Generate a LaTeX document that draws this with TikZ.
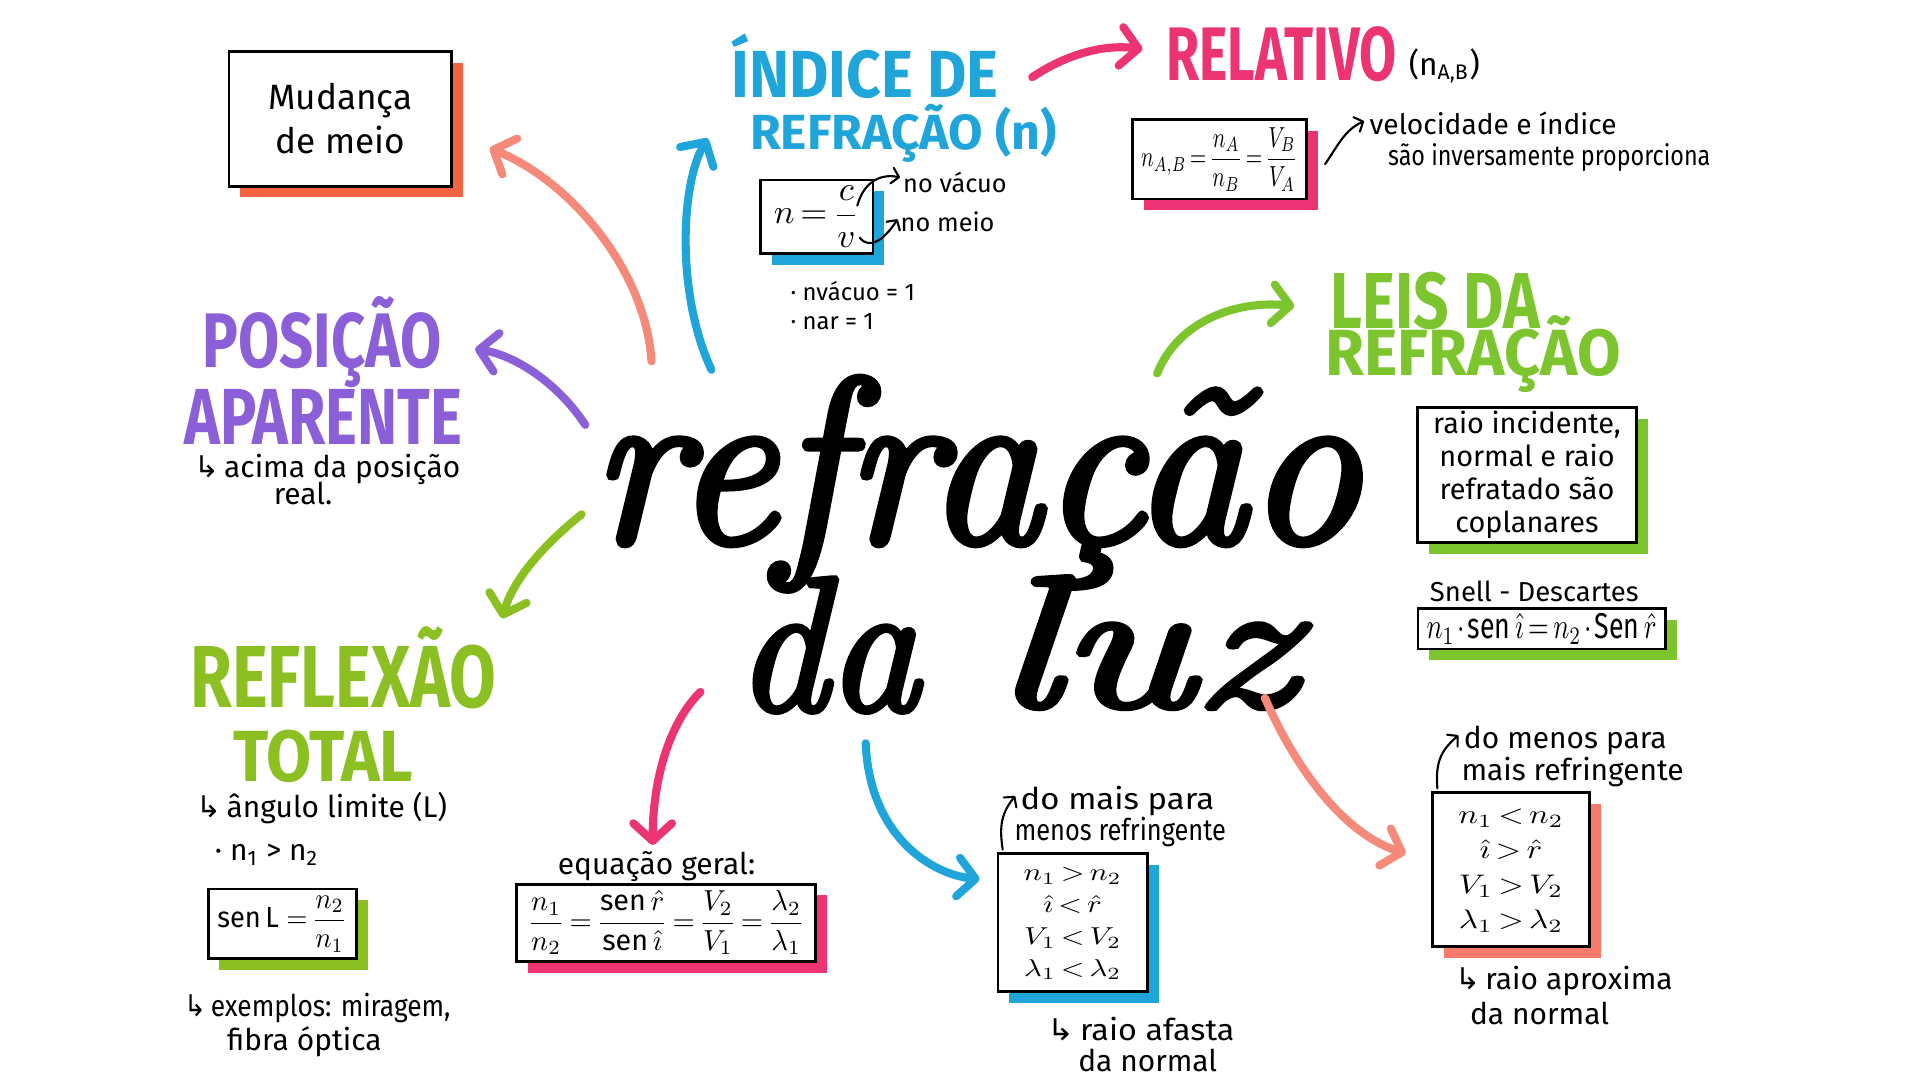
\documentclass[tikz,border=0pt]{standalone}
\usepackage{amsmath}
\usepackage{fontspec}
\setmainfont{Fira Sans}
\newfontfamily\symfont{DejaVu Sans}
\newfontfamily\titlefont{Latin Modern Roman}
\usetikzlibrary{arrows.meta,shadows,calc}
\newlength\px \setlength\px{0.012245cm}
\definecolor{cblue}{HTML}{1FA5DA}
\definecolor{cpink}{HTML}{EC3474}
\definecolor{cgreen}{HTML}{7DC52E}
\definecolor{colive}{HTML}{8CBF22}
\definecolor{cpurple}{HTML}{8A5FD8}
\definecolor{corange}{HTML}{F2643F}
\definecolor{csalmon}{HTML}{F5897A}
\definecolor{csalbox}{HTML}{F67B6A}
\newcommand\hk{{\symfont ↳}\,}
\newcommand\bodyf{\fontsize{8.5pt}{10pt}\selectfont}
\newcommand\smallf{\fontsize{7.2pt}{8.5pt}\selectfont}
\newcommand\fit[3]{\resizebox*{#1\px}{#2\px}{\thickmuskip=3mu\medmuskip=2mu #3}}
\newcommand\sx[2]{\scalebox{#1}[1]{#2}}
\tikzset{
  hd/.style={inner sep=0pt, font=\bfseries, anchor=base west},
  ttl/.style={inner sep=0pt, font=\titlefont\fontsize{40pt}{40pt}\selectfont\itshape, anchor=base west, text=black},
  txt/.style={inner sep=0pt, font=\bodyf, anchor=base west},
  stxt/.style={inner sep=0pt, font=\smallf, anchor=base west},
  sbox/.style={draw=black, line width=0.8pt, fill=white, inner sep=1pt, align=center,
     general shadow={fill=#1, shadow xshift=3.2pt, shadow yshift=-3.2pt}},
  mk/.style={draw=#1, line width=2.3pt, line cap=round,
     -{Straight Barb[length=5pt,width=11pt,round]}},
  ann/.style={draw=black, line width=0.6pt, line cap=round,
     -{Straight Barb[length=2pt,width=4.5pt,round]}}
}
\begin{document}
\begin{tikzpicture}[x=0.012245cm,y=-0.012245cm]
\fill[white] (0,0) rectangle (1568,882);
\useasboundingbox (0,0) rectangle (1568,882);

% ---------- title ----------
\node[ttl] (refr) at (482,443) {\resizebox{628\px}{135\px}{\addfontfeature{FakeBold=3}refração}};
\node[ttl] (da) at (600,580) {\resizebox{150\px}{108\px}{\addfontfeature{FakeBold=3}da}};
\node[ttl] (luz) at (812,577) {\resizebox{245\px}{106\px}{\addfontfeature{FakeBold=3}luz}};

% ---------- Mudança de meio ----------
\node[sbox=corange, minimum width=182\px, minimum height=110\px,
      font=\fontsize{10pt}{12.5pt}\selectfont] (mud) at (278,97) {Mudança\\de meio};

% ---------- Índice de refração ----------
\node[hd, text=cblue] (ind1) at (597,80) {\resizebox{218\px}{52\px}{ÍNDICE DE}};
\node[hd, text=cblue] (ind2) at (612,122) {\resizebox{250\px}{37\px}{REFRAÇÃO (n)}};
\node[sbox=cblue, minimum width=92\px, minimum height=60\px] (ncv) at (667,177)
      {\fit{70}{50}{$n=\dfrac{c}{v}$}};
\node[stxt] (vac) at (737,157) {no vácuo};
\node[stxt] (mei) at (735,189) {no meio};
\node[stxt, font=\fontsize{6.8pt}{8pt}\selectfont] (nv1) at (645,245) {· nvácuo = 1};
\node[stxt, font=\fontsize{6.8pt}{8pt}\selectfont] (nv2) at (645,269) {· nar = 1};
\draw[ann] ($(ncv.north east)+(-14,22)$) .. controls ($(ncv.north east)+(-8,0)$) and (722,142) .. ($(vac.west)+(-2,-4)$);
\draw[ann] ($(ncv.south east)+(-12,-14)$) .. controls ($(ncv.south east)+(-4,-4)$) and (722,196) .. ($(mei.west)+(-2,-2)$);

% ---------- Relativo ----------
\node[hd, text=cpink] (rel) at (952,66) {\resizebox{188\px}{44\px}{RELATIVO}};
\node[txt, font=\fontsize{9pt}{10pt}\selectfont] (relab) at (1150,62) {(n\textsubscript{A,B})};
\node[sbox=cpink, minimum width=142\px, minimum height=65\px] (relbox) at (996,130)
      {\fit{128}{52}{$n_{A,B}=\dfrac{n_A}{n_B}=\dfrac{V_B}{V_A}$}};
\node[txt, font=\fontsize{8pt}{9pt}\selectfont] (velo1) at (1118,110) {velocidade e índice};
\node[txt, font=\fontsize{8pt}{9pt}\selectfont] (velo2) at (1133,135) {\sx{0.83}{são inversamente proporciona}};
\draw[ann] ($(relbox.east)+(14,4)$) .. controls (1092,120) and (1098,106) .. ($(velo1.west)+(-4,-2)$);

% ---------- Leis da refração ----------
\node[hd, text=cgreen] (leis1) at (1086,268) {\resizebox{171\px}{46\px}{LEIS DA}};
\node[hd, text=cgreen] (leis2) at (1082,307) {\resizebox{241\px}{49\px}{REFRAÇÃO}};
\node[sbox=cgreen, minimum width=179\px, minimum height=110\px,
      font=\fontsize{8.2pt}{9.4pt}\selectfont] (leisbox) at (1247,388)
      {raio incidente,\\normal e raio\\refratado são\\coplanares};
\node[inner sep=0pt, font=\fontsize{7.8pt}{9pt}\selectfont] (snt) at (1253,483) {Snell - Descartes};
\node[sbox=cgreen, minimum width=202\px, minimum height=33\px] (snell) at (1259,513.5)
      {\fit{188}{25}{$n_1\cdot\text{sen}\,\hat{\imath}=n_2\cdot\text{Sen}\,\hat{r}$}};

% ---------- Posição aparente ----------
\node[hd, text=cpurple] (pos1) at (165,300) {\resizebox{195\px}{58\px}{POSIÇÃO}};
\node[hd, text=cpurple] (pos2) at (150,363) {\resizebox{227\px}{45\px}{APARENTE}};
\node[txt] (acima) at (158,390) {\hk acima da posição};
\node[txt] (real) at (223,412) {real.};

% ---------- Reflexão total ----------
\node[hd, text=colive] (refl1) at (155,578) {\resizebox{250\px}{66\px}{REFLEXÃO}};
\node[hd, text=colive] (refl2) at (190,638) {\resizebox{147\px}{42\px}{TOTAL}};
\node[txt] (ang) at (160,668) {\hk ângulo limite (L)};
\node[txt] (n1n2) at (175,703) {· n\textsubscript{1} > n\textsubscript{2}};
\node[sbox=colive, minimum width=121\px, minimum height=57\px] (senl) at (230.5,754.5)
      {\fit{106}{46}{sen\,L $=\dfrac{n_2}{n_1}$}};
\node[txt] (ex1) at (150,830) {\sx{0.88}{\hk exemplos: miragem,}};
\node[txt] (ex2) at (185,858) {fibra óptica};

% ---------- Equação geral ----------
\node[txt] (eqg) at (455,714) {equação geral:};
\node[sbox=cpink, minimum width=244\px, minimum height=63\px] (geral) at (544,753.5)
      {\fit{226}{52}{$\dfrac{n_1}{n_2}=\dfrac{\text{sen}\,\hat{r}}{\text{sen}\,\hat{\imath}}=\dfrac{V_2}{V_1}=\dfrac{\lambda_2}{\lambda_1}$}};

% ---------- mais -> menos ----------
\node[txt] (mm1) at (833,661) {\sx{1.1}{do mais para}};
\node[txt] (mm2) at (828,686) {\sx{0.85}{menos refringente}};
\node[sbox=cblue, minimum width=122\px, minimum height=113\px] (boxa) at (876,753.5)
      {\fit{80}{102}{\begin{tabular}{@{}c@{}}$n_1>n_2$\\[1pt]$\hat{\imath}<\hat{r}$\\[1pt]$V_1<V_2$\\[1pt]$\lambda_1<\lambda_2$\end{tabular}}};
\node[txt] (af1) at (855,850) {\sx{1.08}{\hk raio afasta}};
\node[txt] (af2) at (880,875) {da normal};
\draw[ann] ($(boxa.north west)+(5,-2)$) .. controls ($(boxa.north west)+(2,-22)$) and (818,664) .. ($(mm1.west)+(-4,-4)$);

% ---------- menos -> mais ----------
\node[txt] (mn1) at (1195,611) {do menos para};
\node[txt] (mn2) at (1193,637) {mais refringente};
\node[sbox=csalbox, minimum width=128\px, minimum height=126\px] (boxb) at (1234,710)
      {\fit{86}{112}{\begin{tabular}{@{}c@{}}$n_1<n_2$\\[1pt]$\hat{\imath}>\hat{r}$\\[1pt]$V_1>V_2$\\[1pt]$\lambda_1>\lambda_2$\end{tabular}}};
\node[txt] (ap1) at (1188,808) {\hk raio aproxima};
\node[txt] (ap2) at (1200,837) {da normal};
\draw[ann] ($(boxb.north west)+(5,-2)$) .. controls ($(boxb.north west)+(3,-25)$) and (1178,612) .. ($(mn1.west)+(-4,-4)$);

% ---------- main connectors ----------
\coordinate (s1) at (532,295);  \coordinate (e1) at (400,121);
\coordinate (s2) at (581,302);  \coordinate (e2) at (578,113);
\coordinate (s3) at (843,63);   \coordinate (e3) at (933,40);
\coordinate (s4) at (478,347);  \coordinate (e4) at (388,285);
\coordinate (s5) at (475,420);  \coordinate (e5) at (410,505);
\coordinate (s6) at (945,305);  \coordinate (e6) at (1057,250);
\coordinate (s7) at (572,565);  \coordinate (e7) at (533,690);
\coordinate (s8) at (707,607);  \coordinate (e8) at (800,718);
\coordinate (s9) at (1033,570); \coordinate (e9) at (1148,697);
\draw[mk=csalmon] (s1) .. controls (528,225) and (470,150) .. (e1);
\draw[mk=cblue]   (s2) .. controls (552,240) and (556,150) .. (e2);
\draw[mk=cpink]   (s3) .. controls (870,45) and (900,36) .. (e3);
\draw[mk=cpurple] (s4) .. controls (455,312) and (420,290) .. (e4);
\draw[mk=colive]  (s5) .. controls (450,440) and (420,470) .. (e5);
\draw[mk=cgreen]  (s6) .. controls (962,262) and (1010,245) .. (e6);
\draw[mk=cpink]   (s7) .. controls (545,592) and (533,640) .. (e7);
\draw[mk=cblue]   (s8) .. controls (710,682) and (760,714) .. (e8);
\draw[mk=csalmon] (s9) .. controls (1060,632) and (1100,682) .. (e9);
\end{tikzpicture}
\end{document}
